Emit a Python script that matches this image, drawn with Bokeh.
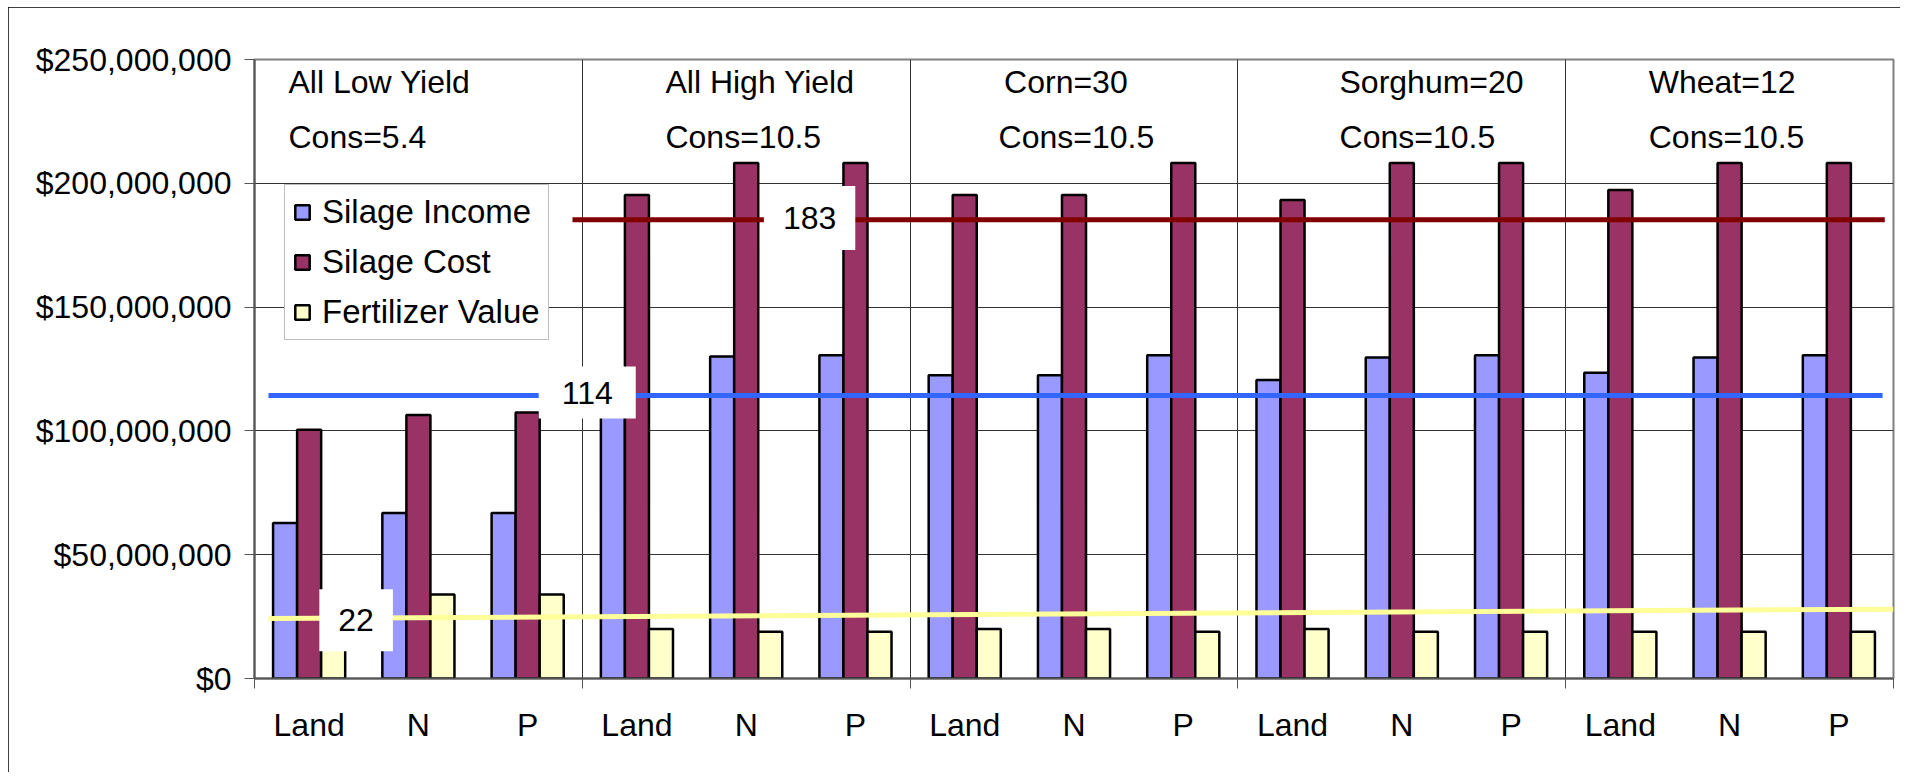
from bokeh.plotting import figure
from bokeh.models import (ColumnDataSource, FixedTicker, NumeralTickFormatter,
                          Legend, LegendItem, Label)
from bokeh.transform import dodge
from bokeh.embed import file_html
from bokeh.resources import INLINE

# ---------------- data ----------------
groups = ["All Low Yield", "All High Yield", "Corn=30", "Sorghum=20", "Wheat=12"]
conditions = ["Cons=5.4", "Cons=10.5", "Cons=10.5", "Cons=10.5", "Cons=10.5"]
subcategories = ["Land", "N", "P"]

silage_income = [62.8e6, 66.8e6, 66.8e6,
                 121.0e6, 130.0e6, 130.6e6,
                 122.5e6, 122.5e6, 130.6e6,
                 120.6e6, 129.6e6, 130.6e6,
                 123.5e6, 129.6e6, 130.6e6]
silage_cost = [100.5e6, 106.4e6, 107.4e6,
               195.3e6, 208.2e6, 208.2e6,
               195.3e6, 195.3e6, 208.2e6,
               193.3e6, 208.2e6, 208.2e6,
               197.3e6, 208.2e6, 208.2e6]
fertilizer_value = [34.7e6, 33.9e6, 33.9e6,
                    20.0e6, 18.9e6, 18.9e6,
                    20.0e6, 20.0e6, 18.9e6,
                    20.0e6, 18.9e6, 18.9e6,
                    18.9e6, 18.9e6, 18.9e6]

cost_line = [185.3e6, 185.3e6]
income_line = [114.3e6, 114.3e6]
fert_line = [24.2e6, 28.0e6]
line_labels = ["183", "114", "22"]

y_ticks = [0, 50e6, 100e6, 150e6, 200e6, 250e6]

FONT = "Liberation Sans"
FS = "32px"
FS_LEG = "33px"

# ---------------- derived ----------------
categories = [s for g in groups for s in subcategories]
n = len(categories)
xc = [i + 0.5 for i in range(n)]
per_group = len(subcategories)
group_edges = [i * per_group for i in range(len(groups) + 1)]

src = ColumnDataSource(dict(x=xc, income=silage_income, cost=silage_cost,
                            fert=fertilizer_value))

p = figure(width=1892, height=769, x_range=(0, n), y_range=(0, 250e6),
           output_backend="svg", toolbar_location=None,
           min_border_left=246, min_border_right=7, min_border_top=52,
           min_border_bottom=98)
p.margin = (7, 0, 0, 8)
p.styles = {"outline": "1.5px solid black", "outline-offset": "-1px",
            "clip-path": "inset(-4px -4px 4px -4px)"}
p.background_fill_color = "white"
p.border_fill_color = "white"
p.outline_line_color = "#808080"
p.outline_line_width = 2

bw = 0.22
r1 = p.vbar(x=dodge("x", -bw, range=p.x_range), top="income", width=bw, source=src,
            fill_color="#9999FF", line_color="black", line_width=2.5)
r2 = p.vbar(x=dodge("x", 0, range=p.x_range), top="cost", width=bw, source=src,
            fill_color="#993366", line_color="black", line_width=2.5)
r3 = p.vbar(x=dodge("x", bw, range=p.x_range), top="fert", width=bw, source=src,
            fill_color="#FFFFCC", line_color="black", line_width=2.5)

# reference lines
p.line(x=[2.91, 14.92], y=cost_line, line_color="#800000", line_width=5)
p.line(x=[0.128, 14.9], y=income_line, line_color="#3366FF", line_width=5)
p.line(x=[0.128, 15.0], y=fert_line, line_color="#FFFF99", line_width=5)

label_pos = [(5.08, 186.0e6, 19, 21), (3.045, 115.5e6, 23, 15), (0.93, 23.5e6, 19, 20)]
for txt, (lx, ly, ph, pv) in zip(line_labels, label_pos):
    p.add_layout(Label(x=lx, y=ly, text=txt, text_align="center", text_baseline="middle",
                       text_font=FONT, text_font_size=FS, text_color="black",
                       background_fill_color="white", background_fill_alpha=1.0,
                       padding=dict(left=ph, right=ph, top=pv, bottom=pv)))

# group captions
caption_x = [0.311, 3.761, 6.86, 9.93, 12.76]
cons_x = [0.311, 3.761, 6.81, 9.93, 12.76]
for gx, cx, g, c in zip(caption_x, cons_x, groups, conditions):
    p.add_layout(Label(x=gx, y=241.0e6, text=g, text_align="left",
                       text_baseline="alphabetic", text_font=FONT,
                       text_font_size=FS, text_color="black"))
    p.add_layout(Label(x=cx, y=218.8e6, text=c, text_align="left",
                       text_baseline="alphabetic", text_font=FONT,
                       text_font_size=FS, text_color="black"))

# axes
p.yaxis.ticker = FixedTicker(ticks=y_ticks)
p.yaxis.formatter = NumeralTickFormatter(format="$0,0")
p.yaxis.major_label_text_font = FONT
p.yaxis.major_label_text_font_size = FS
p.yaxis.major_label_text_color = "black"
p.yaxis.major_tick_out = 10
p.yaxis.major_tick_in = 0
p.yaxis.minor_tick_out = 0
p.yaxis.minor_tick_in = 0
p.yaxis.major_label_standoff = 13
p.yaxis.axis_line_color = "#555555"
p.yaxis.axis_line_width = 2
p.yaxis.major_tick_line_color = "#555555"

p.xaxis.ticker = FixedTicker(ticks=xc, minor_ticks=group_edges)
p.xaxis.major_label_overrides = {x: c for x, c in zip(xc, categories)}
p.xaxis.major_label_text_font = FONT
p.xaxis.major_label_text_font_size = FS
p.xaxis.major_label_text_color = "black"
p.xaxis.major_tick_out = 0
p.xaxis.major_tick_in = 0
p.xaxis.minor_tick_out = 10
p.xaxis.minor_tick_in = 0
p.xaxis.minor_tick_line_color = "#555555"
p.xaxis.major_label_standoff = 18
p.xaxis.axis_line_color = "#555555"
p.xaxis.axis_line_width = 2

p.xgrid.ticker = FixedTicker(ticks=group_edges[1:-1])
p.xgrid.grid_line_color = "#333333"
p.xgrid.grid_line_width = 1
p.ygrid.grid_line_color = "#333333"
p.ygrid.grid_line_width = 1

legend = Legend(items=[LegendItem(label="Silage Income", renderers=[r1]),
                       LegendItem(label="Silage Cost", renderers=[r2]),
                       LegendItem(label="Fertilizer Value", renderers=[r3])],
                location=(30, 338), margin=0, padding=8, spacing=12,
                glyph_width=18, glyph_height=18, label_height=30,
                label_standoff=11, label_text_font=FONT, label_text_font_size=FS_LEG,
                label_text_color="black",
                border_line_color="#808080", border_line_width=1,
                background_fill_color="white", background_fill_alpha=1.0)
p.add_layout(legend)

open("out.html", "w").write(file_html(p, INLINE))
